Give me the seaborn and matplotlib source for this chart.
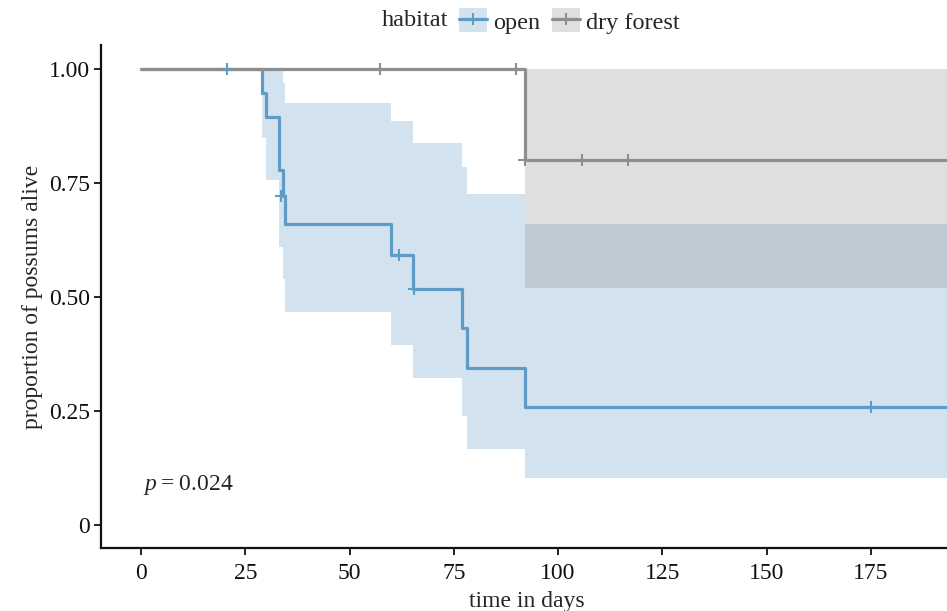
import matplotlib
matplotlib.use("Agg")
import matplotlib.pyplot as plt
import pandas as pd
import seaborn as sns
from matplotlib.patches import Patch
from matplotlib.lines import Line2D

# Kaplan-Meier steps (time in days, proportion alive, 95% CI)
open_time = [0, 29.0, 30.0, 33.2, 34.0, 34.6, 60.0, 65.1, 76.9, 78.2, 92.0, 195.0]
open_surv = [1.0, 0.947, 0.895, 0.778, 0.722, 0.660, 0.592, 0.518, 0.433, 0.345, 0.259, 0.259]
open_upper = [1.0, 1.0, 1.0, 1.0, 0.969, 0.925, 0.885, 0.838, 0.785, 0.726, 0.660, 0.660]
open_lower = [1.0, 0.848, 0.757, 0.610, 0.540, 0.468, 0.395, 0.322, 0.238, 0.167, 0.103, 0.103]
open_cens_time = [20.6, 33.6, 61.9, 65.5, 175.0]
open_cens_surv = [1.0, 0.722, 0.592, 0.518, 0.259]

dry_time = [0, 92.0, 195.0]
dry_surv = [1.0, 0.80, 0.80]
dry_upper = [1.0, 1.0, 1.0]
dry_lower = [1.0, 0.52, 0.52]
dry_cens_time = [57.3, 89.8, 92.0, 105.8, 116.8]
dry_cens_surv = [1.0, 1.0, 0.80, 0.80, 0.80]

groups = ["open", "dry forest"]
colors = {"open": "#5e9cc7", "dry forest": "#8e8e8e"}
x_ticks = [0, 25, 50, 75, 100, 125, 150, 175]
y_ticks = [0, 0.25, 0.5, 0.75, 1.0]
y_tick_labels = ["0", "0.25", "0.50", "0.75", "1.00"]

sns.set_style("ticks")
plt.rcParams["font.family"] = ["Liberation Serif", "DejaVu Serif"]
plt.rcParams["mathtext.fontset"] = "custom"
plt.rcParams["mathtext.it"] = "Liberation Serif:italic"
plt.rcParams["mathtext.rm"] = "Liberation Serif"

curves = pd.concat([
    pd.DataFrame({"time": open_time, "surv": open_surv, "habitat": "open"}),
    pd.DataFrame({"time": dry_time, "surv": dry_surv, "habitat": "dry forest"}),
])
cens = pd.concat([
    pd.DataFrame({"time": open_cens_time, "surv": open_cens_surv, "habitat": "open"}),
    pd.DataFrame({"time": dry_cens_time, "surv": dry_cens_surv, "habitat": "dry forest"}),
])

fig = plt.figure(figsize=(9.47, 6.11), dpi=100)
ax = fig.add_axes([101 / 947, 63 / 611, (953 - 101) / 947, (548 - 45) / 611])

band_alpha = 0.28
ax.fill_between(open_time, open_lower, open_upper, step="post",
                color=colors["open"], alpha=band_alpha, linewidth=0)
ax.fill_between(dry_time, dry_lower, dry_upper, step="post",
                color=colors["dry forest"], alpha=band_alpha, linewidth=0)

sns.lineplot(data=curves, x="time", y="surv", hue="habitat", hue_order=groups,
             palette=colors, estimator=None, drawstyle="steps-post",
             linewidth=2.3, legend=False, ax=ax)
sns.scatterplot(data=cens, x="time", y="surv", hue="habitat", hue_order=groups,
                palette=colors, marker="+", s=80, linewidth=1.5,
                legend=False, ax=ax, zorder=3)

ax.set_xlim(-9.6, 194.7)
ax.set_ylim(-0.0504, 1.0526)
ax.set_xticks(x_ticks)
ax.set_yticks(y_ticks)
ax.set_yticklabels(y_tick_labels)
ax.tick_params(labelsize=17, length=5, width=1.3, colors="#111111")
ax.tick_params(axis="x", pad=6)
ax.tick_params(axis="y", pad=3)
for side in ["left", "bottom"]:
    ax.spines[side].set_linewidth(1.6)
    ax.spines[side].set_color("#111111")
sns.despine(ax=ax)

ax.set_xlabel("time in days", fontsize=17, labelpad=5)
ax.set_ylabel("proportion of possums alive", fontsize=17, labelpad=4)

ax.text(0.5, 0.088, "$p$\u2009=\u20090.024", fontsize=17, ha="left", va="center")

handles = []
for g in groups:
    patch = Patch(facecolor=colors[g], alpha=band_alpha, edgecolor="none")
    line = Line2D([], [], color=colors[g], linewidth=2.3, marker="+",
                  markersize=9, markeredgewidth=1.5)
    handles.append((patch, line))
fig.legend(handles, groups, loc="center left", bbox_to_anchor=(459 / 947, 1 - 21 / 611),
           ncol=2, frameon=False, fontsize=17.5, handlelength=1.15, handleheight=1.15,
           handletextpad=0.25, columnspacing=0.5, borderpad=0, borderaxespad=0)
fig.text(448 / 947, 1 - 21 / 611, "habitat", fontsize=17.5, ha="right", va="center")

fig.savefig("out.png", dpi=100)
